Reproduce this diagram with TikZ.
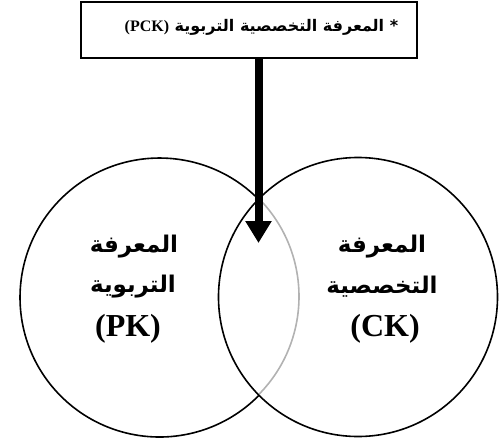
\documentclass[tikz,border=0pt]{standalone}
\usepackage{fontspec}
\setmainfont{Liberation Serif}
\newfontfamily\arabicfont[Script=Arabic]{DejaVu Sans}
\TeXXeTstate=1
\usetikzlibrary{arrows.meta}
\begin{document}
\begin{tikzpicture}[x=1pt,y=1pt,
  ring/.style={circle, minimum size=279pt, inner sep=0pt, outer sep=0pt},
  edge/.style={line width=1.6pt},
  arlbl/.style={font=\arabicfont\bfseries\fontsize{23}{27}\selectfont, inner sep=0pt},
  latlbl/.style={font=\bfseries\fontsize{32}{36}\selectfont, inner sep=0pt},
  boxtext/.style={font=\bfseries\fontsize{16}{19}\selectfont, inner sep=0pt},
  framebox/.style={draw, line width=2pt, minimum width=336pt, minimum height=56pt, inner sep=0pt}
]
\useasboundingbox (0,0) rectangle (499,-448);
% header box
\node[framebox] (pck) at (248.5,-29.5) {};
\node[boxtext] (pcktext) at (261.5,-27) {\beginR{\arabicfont * المعرفة التخصصية التربوية }\beginL(PCK)\endL\endR};
% circles
\node[ring] (pk) at (159,-297) {};
\node[ring, draw, edge] (ck) at (358,-297) {};
\draw[edge] (pk.44.3) arc[start angle=44.3, end angle=315.7, radius=139.5pt];
\draw[edge, draw=gray!60] (pk.-44.3) arc[start angle=-44.3, end angle=44.3, radius=139.5pt];
% arrow
\coordinate (tip) at (258.5,-243);
\draw[line width=8pt, -{Triangle[length=22pt,width=25pt]}] (tip |- pck.south) -- (tip);
% labels
\node[arlbl] (pk1) at (134,-247) {\beginR المعرفة\endR};
\node[arlbl] (pk2) at (133,-287) {\beginR التربوية\endR};
\node[latlbl] (pk3) at (128,-329) {(PK)};
\node[arlbl] (ck1) at (382,-247) {\beginR المعرفة\endR};
\node[arlbl] (ck2) at (382,-287) {\beginR التخصصية\endR};
\node[latlbl] (ck3) at (385,-329) {(CK)};
\end{tikzpicture}
\end{document}
